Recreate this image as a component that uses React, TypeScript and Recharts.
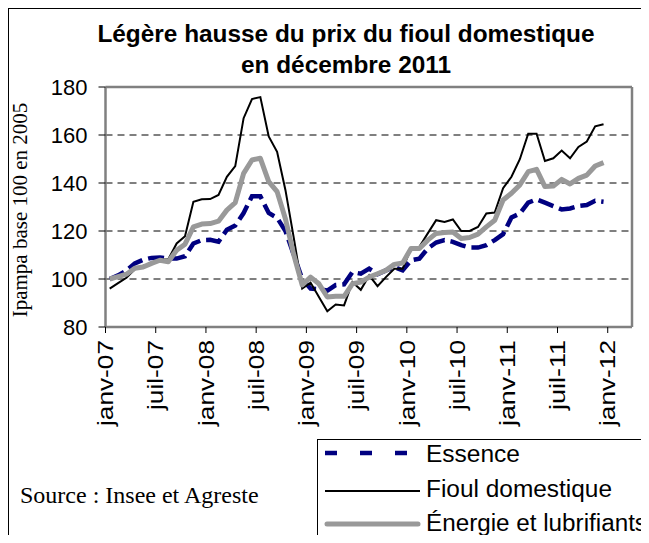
import React from 'react'
import {
    LineChart,
    Line,
    XAxis,
    YAxis,
    CartesianGrid,
    ReferenceLine,
    Legend,
} from 'recharts'

// monthly values, janv-07 .. déc-11 (base 100 en 2005)
const essence = [
    100, 101.5, 103.5, 106.5, 108, 108.8, 109, 108.5, 108.5, 109.5,
    114.8, 116.2, 116.3, 115.5, 120.5, 122.3, 127.5, 134.5, 134.5, 127.5,
    125.5, 120, 110, 100, 96, 95.8, 95.2, 97.5, 97.8, 102.9,
    102.2, 104.3, 102, 103.6, 105, 103.6, 107.8, 108.5, 112.7, 115.2,
    116.2, 115.5, 114.1, 113.1, 113.1, 114.1, 116.2, 118.7, 125.6, 127.3,
    131.8, 133.2, 131.8, 130.4, 129, 129.4, 130.4, 130.8, 132.6, 132.2,
]
const fioul = [
    96, 98.3, 100.5, 104, 105.5, 106.5, 108, 108.2, 114.8, 117.8,
    132.2, 133.2, 133.3, 135, 142.6, 147, 167, 175, 175.8, 159.4,
    153, 137, 117, 96, 98.5, 92.5, 86.6, 89.4, 89, 98.7,
    95.5, 101.5, 97, 100.8, 104.3, 104.3, 112.7, 113.4, 119, 124.5,
    123.8, 124.8, 120, 120, 121.7, 127.3, 127.7, 137.8, 142.6, 149.9,
    160.5, 160.5, 149.2, 150.3, 153.5, 150.3, 155, 157.3, 163.6, 164.5,
]
const energie = [
    100, 101, 102, 104.5, 105, 106.5, 107.8, 107.2, 112, 114.5,
    121.7, 122.9, 123.1, 124.1, 128.7, 131.8, 144, 149.6, 150.3, 140.6,
    136.4, 125, 110, 97.5, 100.8, 98, 92.5, 92.8, 92.8, 98,
    98.7, 100.8, 102.2, 103.6, 106.1, 106.7, 112.7, 112.7, 116.2, 119,
    119.4, 119.6, 116.9, 117.3, 118.7, 121.7, 124.5, 132.9, 135.7, 139.2,
    144.7, 145.7, 138.5, 138.7, 141.5, 139.6, 141.9, 143.3, 147.1, 148.5,
]
const tickLabels = [
    'janv-07', 'juil-07', 'janv-08', 'juil-08', 'janv-09', 'juil-09',
    'janv-10', 'juil-10', 'janv-11', 'juil-11', 'janv-12',
]
const yTicks = [80, 100, 120, 140, 160, 180]

const data = essence.map((v, i) => ({
    t: i + 0.5,
    essence: v,
    fioul: fioul[i],
    energie: energie[i],
}))

const X_MAX = 62.9
const sans = '"Liberation Sans", Arial, sans-serif'
const serif = '"Liberation Serif", "Times New Roman", serif'

// the original's Arial text is drawn a little wider than normal, hence textLength
const XTick = (props: any) => {
    const { x, y, payload } = props
    const ty = y + 5
    const label = tickLabels[Math.round(payload.value / 6)]
    return (
        <text
            x={x}
            y={ty}
            dy="0.35em"
            transform={`rotate(-90 ${x} ${ty})`}
            textAnchor="end"
            fontFamily={sans}
            fontSize={22}
            fill="#000"
            textLength={label.startsWith('janv') ? 86 : 70}
            lengthAdjust="spacingAndGlyphs"
        >
            {label}
        </text>
    )
}

const renderLegend = () => (
    <svg width={340} height={110} style={{ display: 'block' }}>
        <rect x={0.5} y={0.5} width={400} height={200} fill="#fff" stroke="#000" />
        {[8, 43, 78].map((dx) => (
            <line key={dx} x1={dx} x2={dx + 12} y1={14} y2={14} stroke="#000080" strokeWidth={4.5} />
        ))}
        <line x1={8} x2={103} y1={52} y2={52} stroke="#000" strokeWidth={2} />
        <line x1={10} x2={101} y1={85} y2={85} stroke="#999" strokeWidth={5} strokeLinecap="round" />
        <text x={109} y={23} fontFamily={sans} fontSize={23} textLength={94} lengthAdjust="spacingAndGlyphs">
            Essence
        </text>
        <text x={109} y={58} fontFamily={sans} fontSize={23} textLength={186} lengthAdjust="spacingAndGlyphs">
            Fioul domestique
        </text>
        <text x={109} y={92} fontFamily={sans} fontSize={23} textLength={221} lengthAdjust="spacingAndGlyphs">
            Énergie et lubrifiants
        </text>
    </svg>
)

const App: React.FC = () => {
    return (
        <div
            style={{
                position: 'relative',
                width: 640,
                height: 534,
                borderLeft: '1px solid #000',
                borderTop: '1px solid #000',
                overflow: 'hidden',
                marginBottom: -8,
                background: '#fff',
            }}
        >
            <div
                style={{
                    position: 'absolute',
                    left: 87,
                    width: 500,
                    top: 9.5,
                    textAlign: 'center',
                    fontFamily: sans,
                    fontWeight: 'bold',
                    fontSize: 23,
                    lineHeight: '31px',
                    transform: 'scaleX(1.06)',
                    whiteSpace: 'nowrap',
                    zIndex: 2,
                }}
            >
                Légère hausse du prix du fioul domestique
                <br />
                en décembre 2011
            </div>
            <div
                style={{
                    position: 'absolute',
                    left: 11,
                    top: 474,
                    fontFamily: serif,
                    fontSize: 24,
                    lineHeight: '24px',
                    whiteSpace: 'nowrap',
                    zIndex: 2,
                }}
            >
                Source : Insee et Agreste
            </div>
            <LineChart
                width={640}
                height={534}
                data={data}
                margin={{ top: 78, right: 17, left: 36.5, bottom: 116 }}
            >
                <CartesianGrid
                    vertical={false}
                    horizontalValues={[100, 120, 140, 160]}
                    stroke="#000"
                    strokeDasharray="7 5"
                />
                <XAxis
                    type="number"
                    dataKey="t"
                    domain={[0, X_MAX]}
                    ticks={tickLabels.map((_, k) => k * 6)}
                    interval={0}
                    allowDataOverflow
                    height={100}
                    tickSize={6}
                    axisLine={{ stroke: '#808080', strokeWidth: 2.5 }}
                    tickLine={{ stroke: '#000' }}
                    tick={XTick}
                />
                <YAxis
                    domain={[80, 180]}
                    ticks={yTicks}
                    interval={0}
                    width={60}
                    tickSize={7}
                    tickMargin={11}
                    axisLine={{ stroke: '#808080', strokeWidth: 2.5 }}
                    tickLine={{ stroke: '#000' }}
                    tick={{ fill: '#000', fontSize: 22, fontFamily: sans }}
                    label={{
                        content: () => (
                            <text
                                x={11}
                                y={201}
                                dy="0.35em"
                                transform="rotate(-90 11 201)"
                                textAnchor="middle"
                                fontFamily={serif}
                                fontSize={21}
                                fill="#000"
                            >
                                Ipampa base 100 en 2005
                            </text>
                        ),
                    }}
                />
                <ReferenceLine y={180} stroke="#808080" strokeWidth={2.5} />
                <ReferenceLine x={X_MAX} stroke="#808080" strokeWidth={2.5} />
                <ReferenceLine x={0} stroke="#000" strokeDasharray="7 5" />
                <Legend
                    layout="vertical"
                    align="center"
                    verticalAlign="middle"
                    content={renderLegend}
                    wrapperStyle={{ left: 308, top: 430, width: 340, height: 110 }}
                />
                <Line
                    type="linear"
                    dataKey="essence"
                    name="Essence"
                    stroke="#000080"
                    strokeWidth={4.5}
                    strokeDasharray="16 6"
                    dot={false}
                    isAnimationActive={false}
                />
                <Line
                    type="linear"
                    dataKey="fioul"
                    name="Fioul domestique"
                    stroke="#000"
                    strokeWidth={2}
                    dot={false}
                    isAnimationActive={false}
                />
                <Line
                    type="linear"
                    dataKey="energie"
                    name="Énergie et lubrifiants"
                    stroke="#999"
                    strokeWidth={5}
                    strokeLinejoin="round"
                    dot={false}
                    isAnimationActive={false}
                />
            </LineChart>
        </div>
    )
}

export default App
